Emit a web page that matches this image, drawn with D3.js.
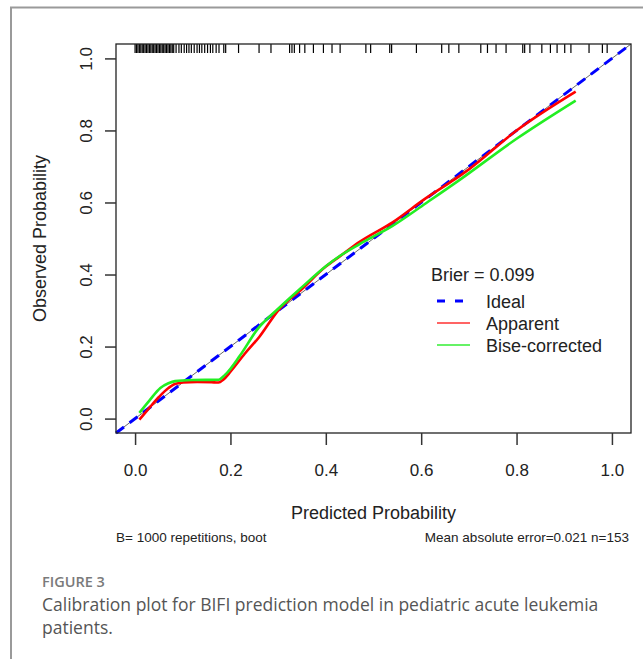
<!DOCTYPE html>
<html>
<head>
<meta charset="utf-8">
<script src="https://cdn.jsdelivr.net/npm/d3@7"></script>
<style>
  body { margin: 0; background: #fff; }
  svg text { font-family: "Liberation Sans", Arial, sans-serif; fill: #222; }
  .cap text { font-family: "Open Sans", "Noto Sans", sans-serif; }
</style>
</head>
<body>
<div id="chart"></div>
<script>
////////////////////////////////////////////////////////////////////
////  Data

// predicted probability (x) / observed probability (y)
var apparentX = [0.009, 0.03, 0.05, 0.07, 0.085, 0.10, 0.13, 0.16, 0.175, 0.185, 0.20, 0.23, 0.26, 0.30, 0.35, 0.40, 0.43, 0.47, 0.54, 0.61, 0.67, 0.70, 0.80, 0.924];
var apparentY = [-0.003, 0.03, 0.06, 0.085, 0.097, 0.100, 0.102, 0.101, 0.100, 0.108, 0.13, 0.18, 0.226, 0.30, 0.36, 0.422, 0.451, 0.49, 0.545, 0.612, 0.664, 0.692, 0.80, 0.908];

var correctedX = [0.009, 0.03, 0.053, 0.07, 0.084, 0.12, 0.175, 0.189, 0.22, 0.256, 0.30, 0.35, 0.40, 0.43, 0.47, 0.54, 0.61, 0.68, 0.80, 0.924];
var correctedY = [0.016, 0.05, 0.085, 0.098, 0.104, 0.107, 0.108, 0.122, 0.175, 0.247, 0.305, 0.365, 0.423, 0.452, 0.484, 0.535, 0.598, 0.662, 0.777, 0.883];

// rug of predicted probabilities along the top
var rugValues = [0.000, 0.003, 0.006, 0.009, 0.012, 0.015, 0.018, 0.021, 0.024, 0.027, 0.030, 0.033, 0.036, 0.039,
  0.042, 0.045, 0.048, 0.051, 0.054, 0.057, 0.060, 0.063, 0.066, 0.069, 0.072, 0.075, 0.078, 0.081,
  0.086, 0.092, 0.097, 0.103, 0.108, 0.113, 0.118, 0.124, 0.130, 0.135, 0.140, 0.146, 0.152, 0.158,
  0.163, 0.170, 0.176, 0.186, 0.190,
  0.217, 0.260, 0.285, 0.324, 0.329, 0.334, 0.345, 0.356, 0.374, 0.395, 0.413, 0.430, 0.484, 0.494,
  0.534, 0.538, 0.590, 0.643, 0.658, 0.679, 0.725, 0.739, 0.757, 0.778, 0.813, 0.817, 0.828, 0.853,
  0.871, 0.885, 0.901, 0.914, 0.952, 0.980, 0.990];

var tickValues = [0, 0.2, 0.4, 0.6, 0.8, 1.0];
var legendLabels = ["Ideal", "Apparent", "Bise-corrected"];
var legendColors = ["#0000ff", "#ff3030", "#33ee33"];
var brierText = "Brier = 0.099";
var footLeft = "B= 1000 repetitions, boot";
var footRight = "Mean absolute error=0.021 n=153";
var captionHead = "FIGURE 3";
var captionLines = ["Calibration plot for BIFI prediction model in pediatric acute leukemia", "patients."];

////////////////////////////////////////////////////////////////////
////  Layout

var W = 643, H = 659;
var plot = {left: 116, right: 631, top: 44, bottom: 433};

var svg = d3.select("#chart").append("svg")
  .attr("width", W)
  .attr("height", H);

// outer figure frame (left + top edges visible)
svg.append("path")
  .attr("d", "M11," + H + "V7.5H" + W)
  .attr("fill", "none")
  .attr("stroke", "#9a9a9a")
  .attr("stroke-width", 2);

var x = d3.scaleLinear().domain([-0.04, 1.04]).range([plot.left, plot.right]);
var y = d3.scaleLinear().domain([-0.04, 1.04]).range([plot.bottom, plot.top]);

////  Ideal line: thin grey under blue dashes
svg.append("line")
  .attr("x1", x(-0.04)).attr("y1", y(-0.04))
  .attr("x2", x(1.04)).attr("y2", y(1.04))
  .attr("stroke", "#666").attr("stroke-width", 1);
svg.append("line")
  .attr("x1", x(-0.04)).attr("y1", y(-0.04))
  .attr("x2", x(1.04)).attr("y2", y(1.04))
  .attr("stroke", legendColors[0]).attr("stroke-width", 3)
  .attr("stroke-dasharray", "10,7");

////  Calibration curves
var line = d3.line()
  .curve(d3.curveMonotoneX)
  .x(function(d) { return x(d[0]); })
  .y(function(d) { return y(d[1]); });

svg.append("path")
  .datum(d3.zip(apparentX, apparentY))
  .attr("fill", "none")
  .attr("stroke", "#ff0000")
  .attr("stroke-width", 2.6)
  .attr("d", line);

svg.append("path")
  .datum(d3.zip(correctedX, correctedY))
  .attr("fill", "none")
  .attr("stroke", "#22ee22")
  .attr("stroke-width", 2.6)
  .attr("d", line);

////  Rug
svg.selectAll(".rug")
  .data(rugValues)
  .enter()
  .append("line")
    .attr("x1", function(d) { return x(d); })
    .attr("x2", function(d) { return x(d); })
    .attr("y1", plot.top)
    .attr("y2", plot.top + 9)
    .attr("stroke", "#000")
    .attr("stroke-width", 1.2);

////  Box
svg.append("rect")
  .attr("x", plot.left).attr("y", plot.top)
  .attr("width", plot.right - plot.left)
  .attr("height", plot.bottom - plot.top)
  .attr("fill", "none")
  .attr("stroke", "#222")
  .attr("stroke-width", 1.3);

////  Axes
var xAxis = svg.append("g")
  .attr("transform", "translate(0," + plot.bottom + ")")
  .call(d3.axisBottom(x).tickValues(tickValues).tickSize(12).tickFormat(d3.format(".1f")));
xAxis.select(".domain").remove();
xAxis.selectAll("line").attr("stroke", "#333").attr("stroke-width", 1.5);
xAxis.selectAll("text")
  .attr("y", 43).attr("dy", null)
  .style("font-size", "17px")
  .attr("fill", "#222");

var yAxis = svg.append("g")
  .attr("transform", "translate(" + plot.left + ",0)")
  .call(d3.axisLeft(y).tickValues(tickValues).tickSize(11).tickFormat(d3.format(".1f")));
yAxis.select(".domain").remove();
yAxis.selectAll("line").attr("stroke", "#333").attr("stroke-width", 1.5);
yAxis.selectAll("text")
  .attr("x", null).attr("dy", null)
  .attr("transform", "translate(-24,0) rotate(-90)")
  .attr("text-anchor", "middle")
  .style("font-size", "17px")
  .attr("fill", "#222");

////  Axis titles
svg.append("text")
  .attr("x", (plot.left + plot.right) / 2)
  .attr("y", 519)
  .attr("text-anchor", "middle")
  .style("font-size", "18px")
  .text("Predicted Probability");

svg.append("text")
  .attr("transform", "translate(46," + ((plot.top + plot.bottom) / 2) + ") rotate(-90)")
  .attr("text-anchor", "middle")
  .style("font-size", "18px")
  .text("Observed Probability");

////  Footnotes under the plot
svg.append("text")
  .attr("x", plot.left)
  .attr("y", 542)
  .style("font-size", "13.5px")
  .text(footLeft);
svg.append("text")
  .attr("x", plot.right - 2)
  .attr("y", 542)
  .attr("text-anchor", "end")
  .style("font-size", "13.5px")
  .text(footRight);

////  Legend
var lg = svg.append("g");
lg.append("text")
  .attr("x", 431).attr("y", 281)
  .style("font-size", "18px")
  .text(brierText);

var legendY = [301, 323, 345];
legendLabels.forEach(function(lab, i) {
  var l = lg.append("line")
    .attr("x1", 437).attr("x2", 470)
    .attr("y1", legendY[i]).attr("y2", legendY[i])
    .attr("stroke", legendColors[i]);
  if (i == 0) {
    l.attr("stroke-width", 3).attr("stroke-dasharray", "8,10");
  } else {
    l.attr("stroke-width", 1.6);
  }
  lg.append("text")
    .attr("x", 486).attr("y", legendY[i] + 6.5)
    .style("font-size", "18px")
    .text(lab);
});

////  Caption
var cap = svg.append("g").attr("class", "cap");
cap.append("text")
  .attr("x", 42).attr("y", 587)
  .style("font-size", "14.5px")
  .style("font-weight", 600)
  .style("fill", "#7a7a7a")
  .text(captionHead);
captionLines.forEach(function(t, i) {
  cap.append("text")
    .attr("x", 42).attr("y", 611 + i * 23)
    .style("font-size", "17.5px")
    .style("fill", "#555")
    .text(t);
});
</script>
</body>
</html>
